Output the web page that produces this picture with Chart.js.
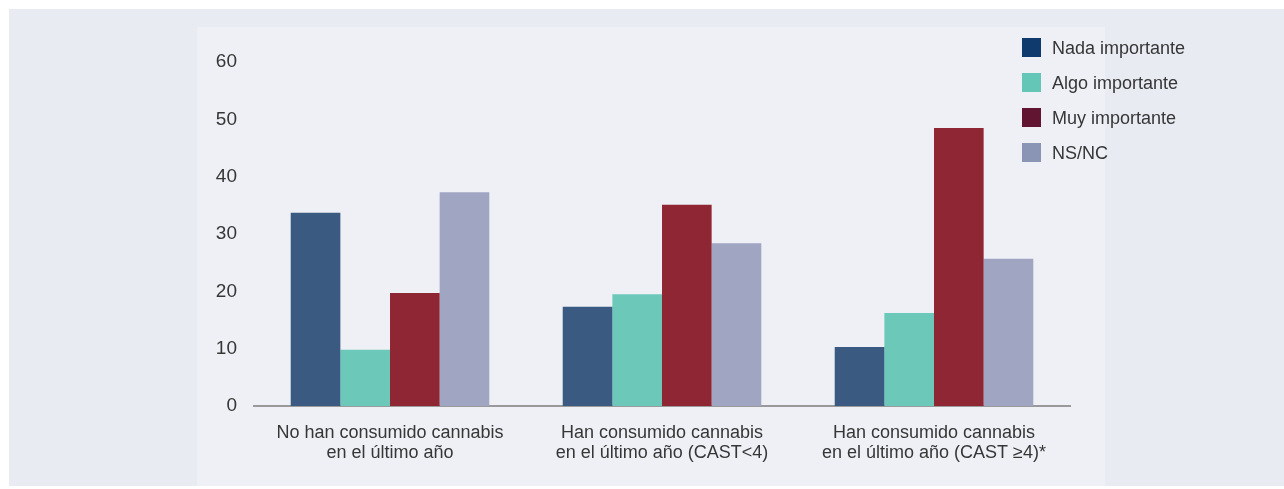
<!DOCTYPE html>
<html>
<head>
<meta charset="utf-8">
<script src="https://cdn.jsdelivr.net/npm/chart.js@4"></script>
<style>
  html, body { margin: 0; padding: 0; background: #ffffff; }
  #outer { position: absolute; left: 9px; top: 9px; width: 1275px; height: 477px; background: #e9ebf3; }
  #panel { position: absolute; left: 197px; top: 27px; width: 908px; height: 459px; background: #eef0f5; }
  #wrap { position: absolute; left: 0; top: 0; width: 1284px; height: 489px; }
</style>
</head>
<body>
<div id="outer"></div>
<div id="panel"></div>
<div id="wrap"><canvas id="chart" width="1284" height="489"></canvas></div>
<script>
  // Categories (two-line labels)
  const categories = [
    ['No han consumido cannabis', 'en el último año'],
    ['Han consumido cannabis', 'en el último año (CAST<4)'],
    ['Han consumido cannabis', 'en el último año (CAST ≥4)*']
  ];

  const seriesNames = ['Nada importante', 'Algo importante', 'Muy importante', 'NS/NC'];

  // Values
  const nadaImportante = [33.7, 17.3, 10.3];
  const algoImportante = [9.8, 19.5, 16.2];
  const muyImportante  = [19.7, 35.1, 48.5];
  const nsnc           = [37.3, 28.4, 25.7];

  const yTicks = [0, 10, 20, 30, 40, 50, 60];

  const barColors    = ['#3b5a81', '#6cc8b9', '#8e2634', '#a0a5c1'];
  const legendColors = ['#0f3a6e', '#63c6b6', '#611530', '#8a94b5'];

  const fontFamily = '"Liberation Sans", Arial, Helvetica, sans-serif';
  const textColor = '#363636';

  // Simple legend drawn at the top right, overlapping the plot like the original
  const cornerLegend = {
    id: 'cornerLegend',
    afterDraw(chart) {
      const ctx = chart.ctx;
      ctx.save();
      ctx.font = '18px ' + fontFamily;
      ctx.textBaseline = 'middle';
      chart.data.datasets.forEach((ds, i) => {
        const top = 38 + i * 35;
        ctx.fillStyle = legendColors[i];
        ctx.fillRect(1022, top, 19, 19);
        ctx.fillStyle = textColor;
        ctx.fillText(ds.label, 1052, top + 11);
      });
      ctx.restore();
    }
  };

  const values = [nadaImportante, algoImportante, muyImportante, nsnc];

  new Chart(document.getElementById('chart').getContext('2d'), {
    type: 'bar',
    data: {
      labels: categories,
      datasets: seriesNames.map((name, i) => ({
        label: name,
        data: values[i],
        backgroundColor: barColors[i],
        borderWidth: 0,
        barPercentage: 1,
        categoryPercentage: 0.73
      }))
    },
    options: {
      responsive: false,
      animation: false,
      layout: { padding: { left: 200, right: 214, top: 62, bottom: 23 } },
      plugins: {
        legend: { display: false },
        tooltip: { enabled: false }
      },
      scales: {
        x: {
          grid: { display: false, drawTicks: false },
          border: { display: true, color: '#9a9a9a', width: 2 },
          ticks: {
            color: textColor,
            font: { family: fontFamily, size: 18, lineHeight: 1.12 },
            padding: 17,
            maxRotation: 0,
            autoSkip: false
          },
          afterFit(scale) { scale.height = 60; }
        },
        y: {
          min: 0,
          max: 60,
          grid: { display: false, drawTicks: false },
          border: { display: false },
          afterBuildTicks(scale) { scale.ticks = yTicks.map(v => ({ value: v })); },
          ticks: {
            color: textColor,
            font: { family: fontFamily, size: 19 },
            padding: 17
          },
          afterFit(scale) { scale.width = 54; }
        }
      }
    },
    plugins: [cornerLegend]
  });
</script>
</body>
</html>
